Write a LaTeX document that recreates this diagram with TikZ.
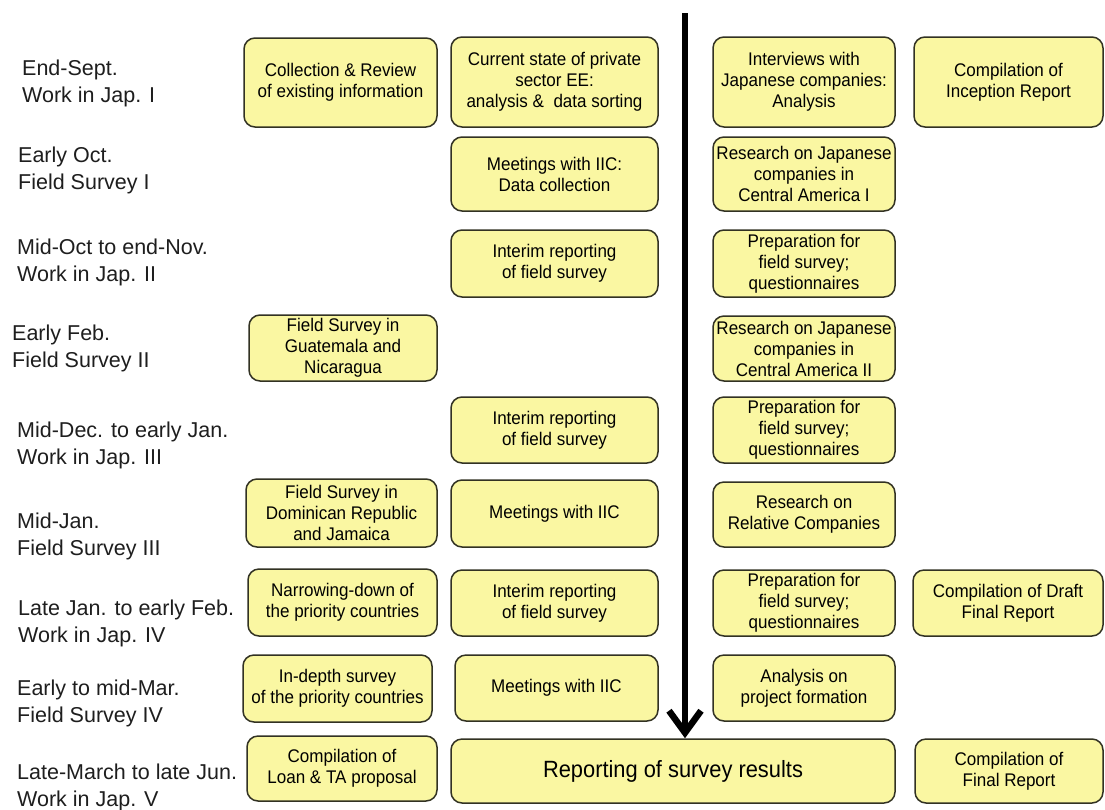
\documentclass[tikz,border=0pt]{standalone}
\usepackage{fontspec}
\setmainfont{Liberation Sans}
\newfontfamily\boxfont[FakeStretch=0.93]{Liberation Sans}
\usetikzlibrary{arrows.meta}

\definecolor{boxfill}{RGB}{250,247,162}
\definecolor{boxline}{RGB}{50,50,35}
\definecolor{labeltext}{RGB}{30,30,30}

% rounded task box given by its corners (x1,y1) and (x2,y2), in px
\newcommand\taskbox[6]{%
  \pgfmathsetmacro\tbW{#4-#2}%
  \pgfmathsetmacro\tbH{#5-#3}%
  \pgfmathsetmacro\tbX{(#2+#4)/2}%
  \pgfmathsetmacro\tbY{(#3+#5)/2}%
  \node[task, minimum width=\tbW pt, minimum height=\tbH pt] (#1) at (\tbX,\tbY) {#6};%
}

\begin{document}
\begin{tikzpicture}[x=1pt, y=-1pt,
  task/.style={draw=boxline, fill=boxfill, line width=1.5pt, rounded corners=11pt,
    align=center, inner sep=0pt, font=\boxfont\fontsize{18.3}{21}\selectfont},
  phase/.style={anchor=west, align=left, inner sep=0pt, text=labeltext,
    font=\fontsize{21.5}{27}\selectfont},
  flow/.style={line width=6.5pt,
    -{Straight Barb[length=22pt, width=32pt, line width=6.5pt]}}]

\fill[white] (0,0) rectangle (1105,809);
\useasboundingbox (0,0) rectangle (1105,809);

% phase labels
\node[phase] (p1) at (22,83.5) {End-Sept.\\Work in Jap. I};
\node[phase] (p2) at (18,170) {Early Oct.\\Field Survey  I};
\node[phase] (p3) at (17,262) {Mid-Oct to end-Nov.\\Work in Jap. II};
\node[phase] (p4) at (12,348) {Early Feb.\\Field Survey II};
\node[phase] (p5) at (17,445) {Mid-Dec. to early Jan.\\Work in Jap. III};
\node[phase] (p6) at (17,536) {Mid-Jan.\\Field Survey  III};
\node[phase] (p7) at (18,623) {Late Jan. to early Feb.\\Work in Jap. IV};
\node[phase] (p8) at (17,703) {Early to mid-Mar.\\Field Survey  IV};
\node[phase] (p9) at (17,787) {Late-March to late Jun.\\Work in Jap. V};

% first column
\taskbox{a1}{244}{38}{437}{127}{Collection \& Review\\of existing information}
\taskbox{a4}{249}{315}{437}{381}{Field Survey in\\Guatemala and\\Nicaragua}
\taskbox{a6}{246}{479}{437}{547}{Field Survey in\\Dominican Republic\\and Jamaica}
\taskbox{a7}{248}{569}{437}{636}{Narrowing-down  of\\the priority countries}
\taskbox{a8}{243}{655}{432}{722}{In-depth  survey\\of the priority countries}
\taskbox{a9}{247}{736}{437}{801}{Compilation  of\\Loan \& TA proposal}

% second column
\taskbox{b1}{451}{37}{658}{127}{Current state of private\\sector EE:\\analysis \&\ \ data sorting}
\taskbox{b2}{451}{137}{658}{211}{Meetings with IIC:\\Data collection}
\taskbox{b3}{451}{230}{658}{297}{Interim reporting\\of field survey}
\taskbox{b5}{451}{397}{658}{463}{Interim reporting\\of field survey}
\taskbox{b6}{451}{480}{658}{547}{Meetings with IIC}
\taskbox{b7}{451}{570}{658}{636}{Interim reporting\\of field survey}
\taskbox{b8}{455}{655}{658}{721}{Meetings with IIC}

% third column
\taskbox{c1}{713}{37}{895}{127}{Interviews with\\Japanese companies:\\Analysis}
\taskbox{c2}{713}{137}{895}{211}{Research on Japanese\\companies in\\Central America I}
\taskbox{c3}{713}{230}{895}{297}{Preparation for\\field survey;\\questionnaires}
\taskbox{c4}{713}{316}{895}{381}{Research on Japanese\\companies in\\Central America II}
\taskbox{c5}{713}{397}{895}{463}{Preparation for\\field survey;\\questionnaires}
\taskbox{c6}{713}{482}{895}{547}{Research on\\Relative Companies}
\taskbox{c7}{713}{570}{895}{636}{Preparation for\\field survey;\\questionnaires}
\taskbox{c8}{713}{655}{895}{721}{Analysis on\\project formation}

% fourth column
\taskbox{d1}{914}{37}{1103}{127}{Compilation  of\\Inception Report}
\taskbox{d7}{913}{570}{1103}{636}{Compilation  of Draft\\Final  Report}
\taskbox{d9}{915}{739}{1103}{803}{Compilation  of\\Final Report}

% final reporting box
\taskbox{rep}{451}{739}{895}{803}{\fontsize{23.5}{27}\selectfont Reporting of survey  results}

% timeline arrow
\coordinate (start) at (685,13);
\draw[flow] (start) -- (start |- rep.north);

\end{tikzpicture}
\end{document}
